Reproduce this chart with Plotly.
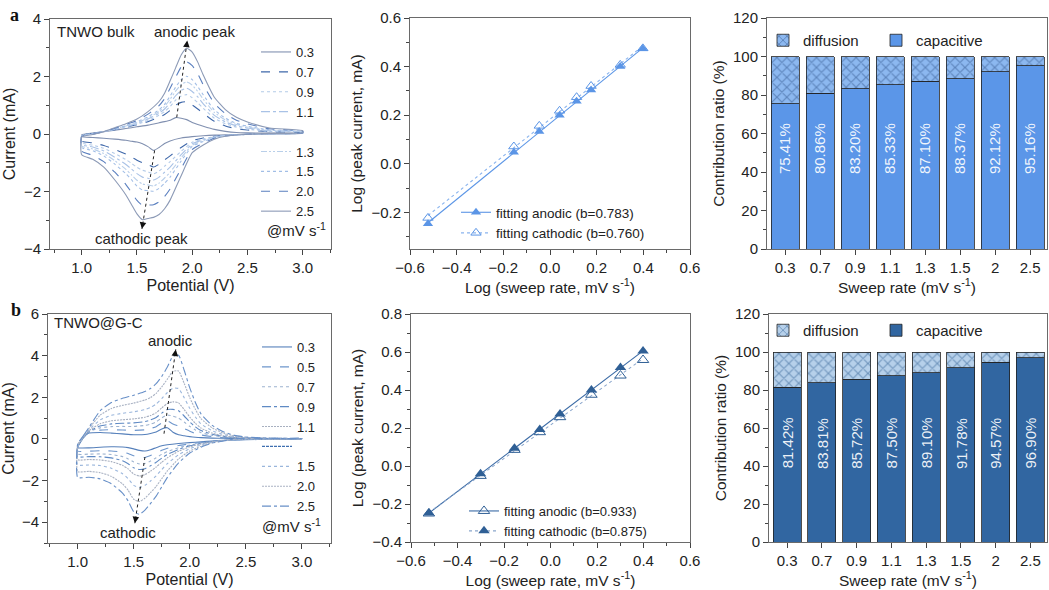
import numpy as np
import plotly.graph_objects as go

FONT = "Liberation Sans, Arial, sans-serif"
W, H = 1049, 590

# ---------------- Panel a : CV of TNWO bulk ----------------
cv_a_rates = ["0.3", "0.7", "0.9", "1.1", "1.3", "1.5", "2.0", "2.5"]
cv_a_E_anodic = [1.0, 1.1, 1.2, 1.3, 1.4, 1.5, 1.6, 1.7, 1.75, 1.8, 1.85, 1.9, 1.95, 2.0, 2.05, 2.1, 2.2, 2.3, 2.4, 2.5, 2.7, 3.0]
cv_a_E_cathodic = [3.0, 2.7, 2.5, 2.3, 2.2, 2.1, 2.0, 1.9, 1.8, 1.75, 1.7, 1.65, 1.6, 1.55, 1.5, 1.45, 1.4, 1.3, 1.2, 1.1, 1.0]

cv_a_anodic_03 = [-0.03, 0.03, 0.08, 0.13, 0.19, 0.25, 0.31, 0.39, 0.43, 0.48, 0.57, 0.55, 0.50, 0.40, 0.33, 0.27, 0.16, 0.09, 0.05, 0.04, 0.03, 0.03]
cv_a_anodic_07 = [-0.05, 0.02, 0.08, 0.15, 0.23, 0.32, 0.43, 0.58, 0.68, 0.82, 1.00, 1.10, 1.12, 1.01, 0.87, 0.72, 0.44, 0.28, 0.18, 0.14, 0.08, 0.05]
cv_a_anodic_09 = [-0.05, 0.01, 0.08, 0.16, 0.25, 0.34, 0.47, 0.65, 0.78, 0.96, 1.18, 1.32, 1.37, 1.26, 1.09, 0.89, 0.55, 0.36, 0.24, 0.17, 0.09, 0.06]
cv_a_anodic_11 = [-0.06, 0.01, 0.08, 0.17, 0.27, 0.37, 0.52, 0.72, 0.87, 1.08, 1.33, 1.52, 1.59, 1.48, 1.29, 1.05, 0.65, 0.42, 0.28, 0.21, 0.11, 0.07]
cv_a_anodic_13 = [-0.07, 0.00, 0.08, 0.18, 0.28, 0.39, 0.56, 0.78, 0.96, 1.21, 1.49, 1.72, 1.81, 1.70, 1.48, 1.21, 0.75, 0.49, 0.33, 0.24, 0.13, 0.08]
cv_a_anodic_15 = [-0.07, 0.00, 0.08, 0.19, 0.29, 0.42, 0.60, 0.84, 1.03, 1.32, 1.63, 1.89, 2.01, 1.89, 1.65, 1.36, 0.84, 0.55, 0.37, 0.27, 0.14, 0.09]
cv_a_anodic_20 = [-0.09, -0.01, 0.08, 0.20, 0.33, 0.47, 0.69, 0.99, 1.23, 1.59, 1.97, 2.33, 2.51, 2.38, 2.09, 1.71, 1.07, 0.71, 0.48, 0.35, 0.18, 0.10]
cv_a_anodic_25 = [-0.10, -0.02, 0.08, 0.22, 0.36, 0.52, 0.78, 1.13, 1.42, 1.85, 2.30, 2.75, 2.98, 2.85, 2.50, 2.05, 1.28, 0.85, 0.58, 0.42, 0.21, 0.12]

cv_a_cathodic_03 = [0.02, 0.00, -0.01, -0.03, -0.04, -0.06, -0.09, -0.14, -0.24, -0.33, -0.47, -0.57, -0.44, -0.34, -0.28, -0.25, -0.22, -0.18, -0.15, -0.12, -0.09]
cv_a_cathodic_07 = [0.03, 0.01, -0.01, -0.04, -0.08, -0.14, -0.23, -0.47, -0.76, -0.90, -1.05, -1.15, -1.07, -1.00, -0.91, -0.80, -0.70, -0.54, -0.40, -0.31, -0.25]
cv_a_cathodic_09 = [0.03, 0.01, -0.01, -0.05, -0.09, -0.17, -0.29, -0.60, -0.96, -1.12, -1.29, -1.39, -1.32, -1.26, -1.16, -1.02, -0.89, -0.68, -0.50, -0.39, -0.31]
cv_a_cathodic_11 = [0.03, 0.01, -0.01, -0.05, -0.10, -0.20, -0.34, -0.72, -1.15, -1.33, -1.50, -1.60, -1.54, -1.50, -1.38, -1.22, -1.06, -0.81, -0.59, -0.45, -0.37]
cv_a_cathodic_13 = [0.04, 0.01, -0.01, -0.06, -0.11, -0.23, -0.39, -0.83, -1.33, -1.53, -1.71, -1.81, -1.77, -1.74, -1.61, -1.42, -1.23, -0.93, -0.68, -0.52, -0.42]
cv_a_cathodic_15 = [0.04, 0.01, -0.01, -0.06, -0.13, -0.26, -0.43, -0.94, -1.50, -1.71, -1.89, -1.99, -1.97, -1.95, -1.81, -1.59, -1.38, -1.05, -0.76, -0.58, -0.47]
cv_a_cathodic_20 = [0.04, 0.02, -0.01, -0.07, -0.15, -0.32, -0.54, -1.20, -1.91, -2.17, -2.36, -2.46, -2.47, -2.48, -2.31, -2.03, -1.76, -1.33, -0.96, -0.74, -0.60]
cv_a_cathodic_25 = [0.05, 0.02, -0.01, -0.08, -0.18, -0.38, -0.65, -1.45, -2.30, -2.60, -2.80, -2.90, -2.94, -2.98, -2.78, -2.45, -2.12, -1.60, -1.15, -0.88, -0.72]

# ---------------- Panel b : CV of TNWO@G-C ----------------
cv_b_rates = ["0.3", "0.5", "0.7", "0.9", "1.1", "1.5", "2.0", "2.5"]
cv_b_E_anodic = [1.0, 1.05, 1.1, 1.2, 1.3, 1.4, 1.5, 1.6, 1.65, 1.7, 1.75, 1.8, 1.85, 1.9, 1.95, 2.0, 2.05, 2.1, 2.2, 2.3, 2.4, 2.5, 2.7, 3.0]
cv_b_E_cathodic = [3.0, 2.7, 2.5, 2.4, 2.3, 2.2, 2.1, 2.0, 1.9, 1.8, 1.75, 1.7, 1.65, 1.6, 1.55, 1.5, 1.45, 1.4, 1.3, 1.2, 1.1, 1.0]

cv_b_anodic_03 = [-0.40, 0.05, 0.28, 0.31, 0.28, 0.24, 0.20, 0.21, 0.26, 0.33, 0.48, 0.54, 0.32, 0.20, 0.15, 0.11, 0.08, 0.06, 0.04, 0.03, 0.02, 0.02, 0.01, 0.01]
cv_b_anodic_05 = [-0.38, 0.06, 0.31, 0.42, 0.44, 0.43, 0.41, 0.44, 0.50, 0.59, 0.76, 0.86, 0.72, 0.62, 0.50, 0.37, 0.26, 0.19, 0.11, 0.06, 0.04, 0.03, 0.01, 0.01]
cv_b_anodic_07 = [-0.37, 0.07, 0.34, 0.53, 0.59, 0.60, 0.60, 0.65, 0.71, 0.82, 1.01, 1.15, 1.09, 1.00, 0.81, 0.60, 0.43, 0.30, 0.17, 0.10, 0.05, 0.04, 0.02, 0.01]
cv_b_anodic_09 = [-0.36, 0.08, 0.36, 0.62, 0.72, 0.75, 0.77, 0.83, 0.91, 1.03, 1.24, 1.41, 1.42, 1.35, 1.10, 0.81, 0.58, 0.40, 0.22, 0.12, 0.07, 0.04, 0.02, 0.01]
cv_b_anodic_11 = [-0.34, 0.09, 0.39, 0.73, 0.87, 0.92, 0.96, 1.04, 1.12, 1.26, 1.49, 1.70, 1.78, 1.73, 1.41, 1.05, 0.75, 0.52, 0.28, 0.15, 0.08, 0.05, 0.02, 0.01]
cv_b_anodic_15 = [-0.31, 0.11, 0.44, 0.91, 1.13, 1.23, 1.30, 1.41, 1.51, 1.68, 1.94, 2.23, 2.44, 2.42, 1.98, 1.47, 1.05, 0.72, 0.39, 0.21, 0.11, 0.06, 0.03, 0.02]
cv_b_anodic_20 = [-0.28, 0.13, 0.50, 1.14, 1.46, 1.61, 1.72, 1.87, 1.99, 2.19, 2.50, 2.87, 3.25, 3.26, 2.67, 1.98, 1.42, 0.97, 0.53, 0.28, 0.14, 0.08, 0.03, 0.02]
cv_b_anodic_25 = [-0.25, 0.15, 0.55, 1.35, 1.75, 1.95, 2.10, 2.28, 2.42, 2.65, 3.00, 3.45, 3.98, 4.02, 3.30, 2.45, 1.75, 1.20, 0.65, 0.34, 0.17, 0.09, 0.04, 0.02]

cv_b_cathodic_03 = [0.00, -0.02, -0.04, -0.05, -0.07, -0.10, -0.14, -0.18, -0.22, -0.28, -0.33, -0.42, -0.52, -0.58, -0.55, -0.48, -0.42, -0.39, -0.38, -0.40, -0.43, -0.43]
cv_b_cathodic_05 = [0.00, -0.02, -0.03, -0.04, -0.07, -0.11, -0.17, -0.24, -0.32, -0.45, -0.55, -0.68, -0.80, -0.89, -0.89, -0.81, -0.70, -0.63, -0.58, -0.57, -0.59, -0.59]
cv_b_cathodic_07 = [0.01, -0.01, -0.03, -0.04, -0.08, -0.12, -0.20, -0.29, -0.42, -0.61, -0.74, -0.91, -1.06, -1.18, -1.20, -1.11, -0.96, -0.85, -0.75, -0.72, -0.73, -0.73]
cv_b_cathodic_09 = [0.01, -0.01, -0.02, -0.04, -0.08, -0.13, -0.22, -0.33, -0.50, -0.75, -0.92, -1.12, -1.29, -1.43, -1.47, -1.39, -1.19, -1.05, -0.91, -0.86, -0.85, -0.86]
cv_b_cathodic_11 = [0.01, 0.00, -0.01, -0.03, -0.08, -0.14, -0.24, -0.38, -0.59, -0.91, -1.12, -1.35, -1.55, -1.72, -1.78, -1.69, -1.44, -1.27, -1.09, -1.01, -0.99, -1.00]
cv_b_cathodic_15 = [0.02, 0.00, 0.00, -0.02, -0.09, -0.16, -0.29, -0.47, -0.76, -1.19, -1.47, -1.77, -2.02, -2.23, -2.33, -2.23, -1.91, -1.67, -1.41, -1.28, -1.25, -1.25]
cv_b_cathodic_20 = [0.02, 0.01, 0.02, -0.01, -0.09, -0.18, -0.35, -0.58, -0.96, -1.54, -1.91, -2.28, -2.58, -2.85, -3.01, -2.90, -2.47, -2.16, -1.80, -1.62, -1.56, -1.57]
cv_b_cathodic_25 = [0.03, 0.02, 0.03, 0.00, -0.10, -0.20, -0.40, -0.68, -1.15, -1.85, -2.30, -2.75, -3.10, -3.42, -3.62, -3.50, -2.98, -2.60, -2.15, -1.92, -1.84, -1.85]

# ---------------- Log(Ip) vs Log(v) ----------------
log_rate_a = [-0.523, -0.155, -0.046, 0.041, 0.114, 0.176, 0.301, 0.398]
log_ip_anodic_a = [-0.247, 0.047, 0.133, 0.200, 0.257, 0.304, 0.400, 0.473]
log_ip_cathodic_a = [-0.223, 0.071, 0.156, 0.218, 0.274, 0.320, 0.407, 0.475]

log_rate_b = [-0.523, -0.301, -0.155, -0.046, 0.041, 0.176, 0.301, 0.398]
log_ip_filled_b = [-0.248, -0.041, 0.094, 0.192, 0.274, 0.400, 0.518, 0.605]
log_ip_open_b = [-0.250, -0.052, 0.085, 0.178, 0.257, 0.375, 0.476, 0.558]

# ---------------- Capacitive contribution ----------------
bar_rates = ["0.3", "0.7", "0.9", "1.1", "1.3", "1.5", "2", "2.5"]
capacitive_a = [75.41, 80.86, 83.20, 85.33, 87.10, 88.37, 92.12, 95.16]
capacitive_b = [81.42, 83.81, 85.72, 87.50, 89.10, 91.78, 94.57, 96.90]
diffusion_a = [100 - v for v in capacitive_a]
diffusion_b = [100 - v for v in capacitive_b]

# ---------------- styles ----------------
style_a = [("#8190b0", "solid"), ("#3f68aa", "dash"), ("#b4cbe8", "dot"), ("#a9c2e6", "dashdot"),
           ("#b9cfe9", "6px,2px,2px,2px,2px,2px"), ("#a2bee6", "dot"), ("#5a7fbf", "dash"), ("#8c9ab6", "solid")]
style_b = [("#5680bb", "solid"), ("#6e96cc", "dash"), ("#9db3d0", "dot"), ("#5f8ac4", "dashdot"),
           ("#a8b0c0", "2px,1px"), ("#9ab6dc", "dot"), ("#aab3c4", "2px,1px"), ("#6890c8", "dashdot")]

fig = go.Figure()


def px_x(p):
    return p / W


def px_y(p):
    return 1 - p / H


cv_a_an = [cv_a_anodic_03, cv_a_anodic_07, cv_a_anodic_09, cv_a_anodic_11, cv_a_anodic_13, cv_a_anodic_15, cv_a_anodic_20, cv_a_anodic_25]
cv_a_ca = [cv_a_cathodic_03, cv_a_cathodic_07, cv_a_cathodic_09, cv_a_cathodic_11, cv_a_cathodic_13, cv_a_cathodic_15, cv_a_cathodic_20, cv_a_cathodic_25]
cv_b_an = [cv_b_anodic_03, cv_b_anodic_05, cv_b_anodic_07, cv_b_anodic_09, cv_b_anodic_11, cv_b_anodic_15, cv_b_anodic_20, cv_b_anodic_25]
cv_b_ca = [cv_b_cathodic_03, cv_b_cathodic_05, cv_b_cathodic_07, cv_b_cathodic_09, cv_b_cathodic_11, cv_b_cathodic_15, cv_b_cathodic_20, cv_b_cathodic_25]


def add_cv(rates, Ea, Ec, an, ca, styles, xa, ya, legend, gap_after, gap_style):
    for i, r in enumerate(rates):
        col, dash = styles[i]
        xs = list(Ea) + list(Ec) + [Ea[0]]
        ys = list(an[i]) + list(ca[i]) + [an[i][0]]
        fig.add_trace(go.Scatter(x=xs, y=ys, mode="lines", name=r,
                                 line=dict(color=col, dash=dash, width=1.1, shape="spline", smoothing=0.5),
                                 xaxis=xa, yaxis=ya, legend=legend, hoverinfo="skip"))
        if i == gap_after:
            gcol, gdash, gw = gap_style
            fig.add_trace(go.Scatter(x=[None], y=[None], mode="lines", name=" ",
                                     line=dict(color=gcol, dash=gdash, width=gw),
                                     xaxis=xa, yaxis=ya, legend=legend, hoverinfo="skip"))


add_cv(cv_a_rates, cv_a_E_anodic, cv_a_E_cathodic, cv_a_an, cv_a_ca, style_a, "x", "y", "legend", 3,
       ("rgba(0,0,0,0)", "solid", 0.1))
add_cv(cv_b_rates, cv_b_E_anodic, cv_b_E_cathodic, cv_b_an, cv_b_ca, style_b, "x4", "y4", "legend2", 4,
       ("#3f6fb0", "3px,1px", 1.2))

# ---------------- log plots ----------------
light = "#5b95e6"
dark = "#2f5f95"


def fit_line(xv, yv):
    k, b0 = np.polyfit(xv, yv, 1)
    xx = [min(xv), max(xv)]
    return xx, [k * v + b0 for v in xx]


fx, fy = fit_line(log_rate_a, log_ip_anodic_a)
fig.add_trace(go.Scatter(x=fx, y=fy, mode="lines", line=dict(color=light, width=1.1), xaxis="x2", yaxis="y2", showlegend=False))
fx, fy = fit_line(log_rate_a, log_ip_cathodic_a)
fig.add_trace(go.Scatter(x=fx, y=fy, mode="lines", line=dict(color="#8ab4ee", width=1.1, dash="dot"), xaxis="x2", yaxis="y2", showlegend=False))
fig.add_trace(go.Scatter(x=log_rate_a, y=log_ip_cathodic_a, mode="markers",
                         marker=dict(symbol="triangle-up-open", size=9, color=light, line=dict(width=1)),
                         xaxis="x2", yaxis="y2", showlegend=False))
fig.add_trace(go.Scatter(x=log_rate_a, y=log_ip_anodic_a, mode="markers",
                         marker=dict(symbol="triangle-up", size=9, color=light),
                         xaxis="x2", yaxis="y2", showlegend=False))
fig.add_trace(go.Scatter(x=[None], y=[None], mode="lines+markers", name="fitting anodic (b=0.783)",
                         marker=dict(symbol="triangle-up", size=9, color=light), line=dict(color=light, width=1.1),
                         xaxis="x2", yaxis="y2", legend="legend3"))
fig.add_trace(go.Scatter(x=[None], y=[None], mode="lines+markers", name="fitting cathodic (b=0.760)",
                         marker=dict(symbol="triangle-up-open", size=9, color=light, line=dict(width=1)),
                         line=dict(color="#8ab4ee", width=1.1, dash="dot"),
                         xaxis="x2", yaxis="y2", legend="legend3"))

fx, fy = fit_line(log_rate_b, log_ip_filled_b)
fig.add_trace(go.Scatter(x=fx, y=fy, mode="lines", line=dict(color="#3a6aa5", width=1.1), xaxis="x5", yaxis="y5", showlegend=False))
fx, fy = fit_line(log_rate_b, log_ip_open_b)
fig.add_trace(go.Scatter(x=fx, y=fy, mode="lines", line=dict(color="#8aa6cc", width=1.1, dash="dot"), xaxis="x5", yaxis="y5", showlegend=False))
fig.add_trace(go.Scatter(x=log_rate_b, y=log_ip_open_b, mode="markers",
                         marker=dict(symbol="triangle-up-open", size=10, color=dark, line=dict(width=1)),
                         xaxis="x5", yaxis="y5", showlegend=False))
fig.add_trace(go.Scatter(x=log_rate_b, y=log_ip_filled_b, mode="markers",
                         marker=dict(symbol="triangle-up", size=10, color=dark),
                         xaxis="x5", yaxis="y5", showlegend=False))
fig.add_trace(go.Scatter(x=[None], y=[None], mode="lines+markers", name="fitting anodic (b=0.933)",
                         marker=dict(symbol="triangle-up-open", size=10, color=dark, line=dict(width=1)),
                         line=dict(color="#3a6aa5", width=1.1),
                         xaxis="x5", yaxis="y5", legend="legend4"))
fig.add_trace(go.Scatter(x=[None], y=[None], mode="lines+markers", name="fitting cathodic (b=0.875)",
                         marker=dict(symbol="triangle-up", size=10, color=dark),
                         line=dict(color="#8aa6cc", width=1.1, dash="dot"),
                         xaxis="x5", yaxis="y5", legend="legend4"))

# ---------------- bars ----------------
fig.add_trace(go.Bar(x=bar_rates, y=capacitive_a, name="capacitive", marker=dict(color="#5b96e8", line=dict(color="#222", width=0.8)),
                     xaxis="x3", yaxis="y3", legend="legend5"))
fig.add_trace(go.Bar(x=bar_rates, y=diffusion_a, name="diffusion",
                     marker=dict(color="#8cb8f0", line=dict(color="#222", width=0.8),
                                 pattern=dict(shape="x", fgcolor="#2c4f86", size=7, solidity=0.3)),
                     xaxis="x3", yaxis="y3", legend="legend5"))
fig.add_trace(go.Bar(x=bar_rates, y=capacitive_b, name="capacitive", marker=dict(color="#3166a1", line=dict(color="#222", width=0.8)),
                     xaxis="x6", yaxis="y6", legend="legend6"))
fig.add_trace(go.Bar(x=bar_rates, y=diffusion_b, name="diffusion",
                     marker=dict(color="#b6d0ea", line=dict(color="#222", width=0.8),
                                 pattern=dict(shape="x", fgcolor="#2a5a90", size=7, solidity=0.3)),
                     xaxis="x6", yaxis="y6", legend="legend6"))

annotations = []
for xa, ya, vals in (("x3", "y3", capacitive_a), ("x6", "y6", capacitive_b)):
    for i, v in enumerate(vals):
        annotations.append(dict(x=i, y=52, xref=xa, yref=ya, text=f"{v:.2f}%", textangle=-90, showarrow=False,
                                font=dict(size=15, color="rgba(255,255,255,0.92)", family=FONT)))


# ---------------- axes ----------------
def axis(domain, rng, title, dtick, minor, anchor, fmt=None, extra=None, tsize=15.5):
    d = dict(domain=domain, range=rng, anchor=anchor, showline=True, linecolor="#6a6a6a", linewidth=1, mirror=True,
             automargin=False,
             ticks="outside", ticklen=5, tickwidth=1, tickcolor="#444", showgrid=False, zeroline=False,
             tickfont=dict(size=15, color="#222", family=FONT),
             title=dict(text=title, font=dict(size=tsize, color="#222", family=FONT), standoff=4))
    if dtick is not None:
        d["dtick"] = dtick
    if minor is not None:
        d["minor"] = dict(ticks="outside", ticklen=3, tickcolor="#444", dtick=minor, showgrid=False)
    if fmt:
        d["tickformat"] = fmt
    if extra:
        d.update(extra)
    return d


dom = {
    "x": [px_x(50), px_x(331)], "y": [px_y(249), px_y(19)],
    "x2": [px_x(410), px_x(690)], "y2": [px_y(249), px_y(18)],
    "x3": [px_x(767), px_x(1047)], "y3": [px_y(249), px_y(18)],
    "x4": [px_x(48), px_x(331)], "y4": [px_y(543), px_y(314)],
    "x5": [px_x(411), px_x(690)], "y5": [px_y(542), px_y(314)],
    "x6": [px_x(769), px_x(1047)], "y6": [px_y(542), px_y(314)],
}

layout = dict(
    width=W, height=H, margin=dict(l=0, r=0, t=0, b=0, autoexpand=False), paper_bgcolor="white", plot_bgcolor="white",
    font=dict(family=FONT, color="#222"), barmode="stack", bargap=0.19, showlegend=True,
    xaxis=axis(dom["x"], [0.713, 3.256], "Potential (V)", 0.5, 0.25, "y", ".1f", tsize=16),
    yaxis=axis(dom["y"], [-4, 4], "Current (mA)", 2, 1, "x", tsize=16),
    xaxis2=axis(dom["x2"], [-0.6, 0.6], "Log (sweep rate, mV s<sup>-1</sup>)", 0.2, 0.1, "y2", ".1f"),
    yaxis2=axis(dom["y2"], [-0.351, 0.6], "Log (peak current, mA)", 0.2, 0.1, "x2", ".1f"),
    xaxis3=axis(dom["x3"], [-0.52, 7.48], "Sweep rate (mV s<sup>-1</sup>)", None, None, "y3", None,
                {"type": "category"}),
    yaxis3=axis(dom["y3"], [0, 120], "Contribution ratio (%)", 20, 10, "x3"),
    xaxis4=axis(dom["x4"], [0.735, 3.26], "Potential (V)", 0.5, 0.25, "y4", ".1f", tsize=16),
    yaxis4=axis(dom["y4"], [-5, 6], "Current (mA)", 2, 1, "x4", tsize=16),
    xaxis5=axis(dom["x5"], [-0.6, 0.6], "Log (sweep rate, mV s<sup>-1</sup>)", 0.2, 0.1, "y5", ".1f"),
    yaxis5=axis(dom["y5"], [-0.4, 0.8], "Log (peak current, mA)", 0.2, 0.1, "x5", ".1f"),
    xaxis6=axis(dom["x6"], [-0.52, 7.48], "Sweep rate (mV s<sup>-1</sup>)", None, None, "y6", None,
                {"type": "category"}),
    yaxis6=axis(dom["y6"], [0, 120], "Contribution ratio (%)", 20, 10, "x6"),
)

leg_cv = dict(bgcolor="rgba(0,0,0,0)", font=dict(size=13, color="#222", family=FONT), xanchor="left", yanchor="top")
leg_bar = dict(bgcolor="rgba(0,0,0,0)", font=dict(size=15, color="#222", family=FONT), xanchor="left", yanchor="top",
               orientation="h", traceorder="reversed", entrywidth=68)
layout["legend"] = dict(x=px_x(256), y=px_y(37), **leg_cv)
layout["legend2"] = dict(x=px_x(257), y=px_y(332), **leg_cv)
layout["legend3"] = dict(x=px_x(456), y=px_y(197), bgcolor="rgba(0,0,0,0)", xanchor="left", yanchor="top",
                         font=dict(size=13.5, color="#222", family=FONT))
layout["legend4"] = dict(x=px_x(464), y=px_y(496), bgcolor="rgba(0,0,0,0)", xanchor="left", yanchor="top",
                         font=dict(size=13, color="#222", family=FONT))
layout["legend5"] = dict(x=px_x(763), y=px_y(24), **leg_bar)
layout["legend6"] = dict(x=px_x(763), y=px_y(314), **leg_bar)

txt = dict(size=15, color="#222", family=FONT)
serif = dict(size=18, family="Liberation Serif, DejaVu Serif, serif", color="#111")
annotations += [
    dict(x=px_x(14), y=px_y(15), xref="paper", yref="paper", text="<b>a</b>", showarrow=False,
         xanchor="center", yanchor="middle", font=serif),
    dict(x=px_x(16), y=px_y(310), xref="paper", yref="paper", text="<b>b</b>", showarrow=False,
         xanchor="center", yanchor="middle", font=serif),
    dict(x=0.76, y=3.55, xref="x", yref="y", text="TNWO bulk", showarrow=False, xanchor="left", font=txt),
    dict(x=2.02, y=3.55, xref="x", yref="y", text="anodic peak", showarrow=False, font=txt),
    dict(x=1.54, y=-3.64, xref="x", yref="y", text="cathodic peak", showarrow=False, font=txt),
    dict(x=2.94, y=-3.33, xref="x", yref="y", text="@mV s<sup>-1</sup>", showarrow=False, font=txt),
    dict(x=0.77, y=5.57, xref="x4", yref="y4", text="TNWO@G-C", showarrow=False, xanchor="left", font=txt),
    dict(x=1.83, y=4.74, xref="x4", yref="y4", text="anodic", showarrow=False, font=txt),
    dict(x=1.45, y=-4.49, xref="x4", yref="y4", text="cathodic", showarrow=False, font=txt),
    dict(x=2.91, y=-4.15, xref="x4", yref="y4", text="@mV s<sup>-1</sup>", showarrow=False, font=txt),
]
# peak-shift arrows (dotted line + arrow head)
arrows = [("x", "y", 1.86, 0.58, 1.955, 3.25), ("x", "y", 1.66, -0.57, 1.545, -3.3),
          ("x4", "y4", 1.77, 0.25, 1.875, 4.3), ("x4", "y4", 1.60, -0.87, 1.51, -4.05)]
shapes = []
for xa, ya, x0, y0, x1, y1 in arrows:
    shapes.append(dict(type="line", xref=xa, yref=ya, x0=x0, y0=y0, x1=x1, y1=y1,
                       line=dict(color="#222", width=1, dash="dot")))
    annotations.append(dict(x=x1, y=y1, ax=x1 - (x1 - x0) * 0.08, ay=y1 - (y1 - y0) * 0.08, xref=xa, yref=ya,
                            axref=xa, ayref=ya, text="", showarrow=True, arrowhead=2, arrowsize=1.1,
                            arrowwidth=1.2, arrowcolor="#111"))

layout["annotations"] = annotations
layout["shapes"] = shapes
fig.update_layout(**layout)
fig.write_html("out.html", config={"displayModeBar": False},
               post_script="document.body.style.margin='0px';document.body.style.overflow='hidden';")
